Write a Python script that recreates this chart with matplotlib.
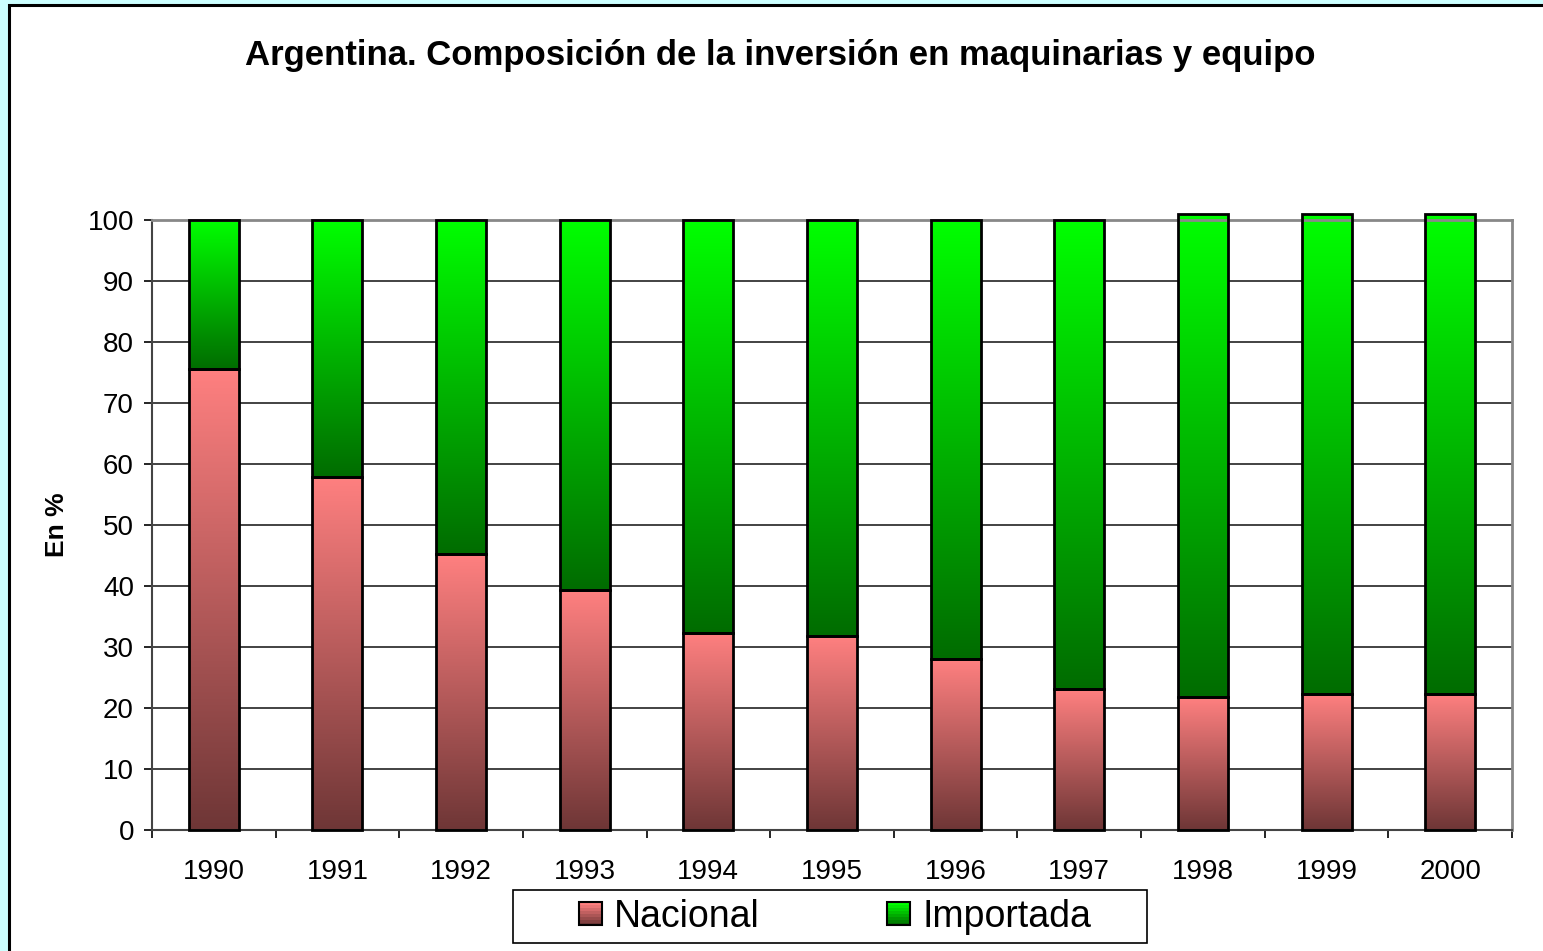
"""Argentina: composition of investment in machinery and equipment, 1990-2000."""

import numpy as np
import matplotlib
matplotlib.use("Agg")
import matplotlib.pyplot as plt
from matplotlib.colors import LinearSegmentedColormap
from matplotlib.legend_handler import HandlerBase
from matplotlib.patches import Rectangle

years = ["1990", "1991", "1992", "1993", "1994", "1995",
         "1996", "1997", "1998", "1999", "2000"]
nacional = [75.6, 57.9, 45.2, 39.3, 32.3, 31.8, 28.0, 23.1, 21.8, 22.3, 22.3]
importada = [24.4, 42.1, 54.8, 60.7, 67.7, 68.2, 72.0, 76.9, 79.2, 78.7, 78.7]
series_names = ["Nacional", "Importada"]

title = "Argentina. Composición de la inversión en maquinarias y equipo"
ylabel = "En %"

NAC_TOP, NAC_BOT = "#ff8080", "#6e3636"
IMP_TOP, IMP_BOT = "#00ff00", "#006c00"

plt.rcParams["font.family"] = ["Liberation Sans", "DejaVu Sans"]


def fill_gradient(ax, bars, top, bottom):
    """Paint each bar with a vertical gradient, light at the top."""
    cmap = LinearSegmentedColormap.from_list("g", [bottom, top])
    grad = np.linspace(0, 1, 256).reshape(-1, 1)
    for bar in bars:
        x, y = bar.get_xy()
        w, h = bar.get_width(), bar.get_height()
        im = ax.imshow(grad, extent=(x, x + w, y, y + h), origin="lower",
                       cmap=cmap, aspect="auto", zorder=2,
                       interpolation="bilinear")
        im.set_clip_path(bar)


class GradientHandler(HandlerBase):
    def __init__(self, top, bottom, steps=8):
        super().__init__()
        self.top, self.bottom, self.steps = top, bottom, steps

    def create_artists(self, legend, orig_handle, xdescent, ydescent,
                       width, height, fontsize, trans):
        cmap = LinearSegmentedColormap.from_list("g", [self.bottom, self.top])
        side = min(width, height)
        x0 = -xdescent + (width - side) / 2
        y0 = -ydescent + (height - side) / 2
        artists = []
        step = side / self.steps
        for i in range(self.steps):
            artists.append(Rectangle((x0, y0 + i * step), side, step,
                                     facecolor=cmap(i / (self.steps - 1)),
                                     edgecolor="none", transform=trans))
        artists.append(Rectangle((x0, y0), side, side, facecolor="none",
                                 edgecolor="black", lw=1.5, transform=trans))
        return artists


fig = plt.figure(figsize=(15.43, 9.51), dpi=100)
fig.patch.set_facecolor("#ccffff")

# white chart panel with dark border (runs off the right and bottom edges)
fig.patches.append(Rectangle((9 / 1543, -0.1), 1.2, 1.1 - 5 / 951,
                             transform=fig.transFigure, facecolor="white",
                             edgecolor="black", lw=2.2, zorder=-5))

ax = fig.add_axes([152 / 1543, 1 - 830 / 951, 1360 / 1543, 610 / 951])
ax.set_facecolor("white")

x = np.arange(len(years))
width = 0.405
bars_nac = ax.bar(x, nacional, width, facecolor="none", edgecolor="black",
                  lw=2, zorder=3, clip_on=False)
bars_imp = ax.bar(x, importada, width, bottom=nacional, facecolor="none",
                  edgecolor="black", lw=2, zorder=3, clip_on=False)
fill_gradient(ax, bars_nac, NAC_TOP, NAC_BOT)
fill_gradient(ax, bars_imp, IMP_TOP, IMP_BOT)

ax.set_xlim(-0.5, len(years) - 0.5)
ax.set_ylim(0, 100)
ax.set_xticks(x)
ax.set_xticklabels(years, fontsize=20)
ax.set_yticks(range(0, 101, 10))
ax.set_yticklabels([str(v) for v in range(0, 101, 10)], fontsize=20)
ax.set_xticks(np.arange(-0.5, len(years)), minor=True)
ax.tick_params(axis="x", which="major", length=0, pad=21)
ax.tick_params(axis="x", which="minor", length=6, width=1.2, color="black")
ax.tick_params(axis="y", length=6, width=1.2, pad=7)
ax.yaxis.grid(True, color="#222222", lw=1.2, zorder=1)
ax.set_axisbelow(True)

for side in ("left", "bottom"):
    ax.spines[side].set_color("#444444")
    ax.spines[side].set_linewidth(1.5)
for side in ("top", "right"):
    ax.spines[side].set_color("#888888")
    ax.spines[side].set_linewidth(2)

ax.set_ylabel(ylabel, fontsize=19, fontweight="bold")
ax.yaxis.set_label_coords(-0.061, 0.5)

fig.text(780 / 1543, 1 - 55 / 951, title, ha="center", va="center",
         fontsize=25, fontweight="bold")

# legend frame drawn separately: it has wide side margins but a tight height
fig.patches.append(Rectangle((513 / 1543, 1 - 943 / 951), 634 / 1543,
                             53 / 951, transform=fig.transFigure,
                             facecolor="white", edgecolor="black", lw=1.2,
                             zorder=4))
h_nac = Rectangle((0, 0), 1, 1)
h_imp = Rectangle((0, 0), 1, 1)
leg = fig.legend([h_nac, h_imp], series_names, loc="center",
                 bbox_to_anchor=(835 / 1543, 1 - 917 / 951),
                 bbox_transform=fig.transFigure, ncol=2, fontsize=27,
                 frameon=False, handlelength=0.62, handleheight=0.62,
                 handletextpad=0.32, columnspacing=3.4, borderpad=0.1,
                 borderaxespad=0,
                 handler_map={h_nac: GradientHandler(NAC_TOP, NAC_BOT),
                              h_imp: GradientHandler(IMP_TOP, IMP_BOT)})
leg.set_zorder(6)

fig.savefig("out.png", dpi=100, facecolor=fig.get_facecolor())
